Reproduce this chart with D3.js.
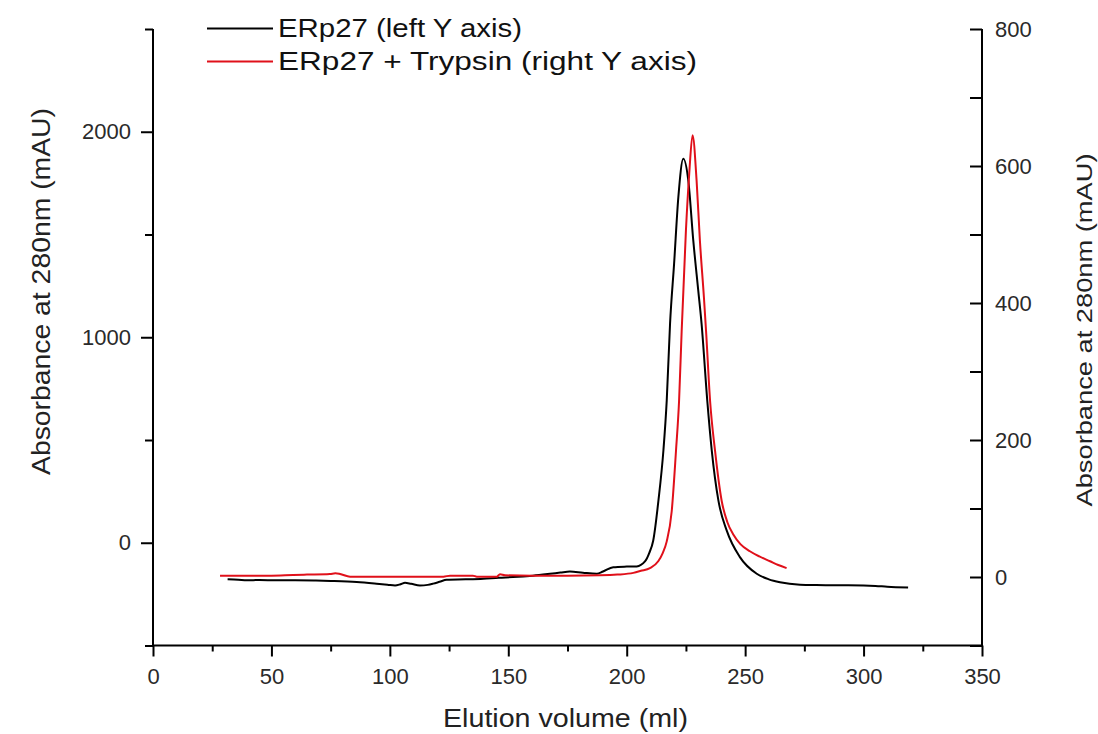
<!DOCTYPE html>
<html>
<head>
<meta charset="utf-8">
<script src="https://cdn.jsdelivr.net/npm/d3@7"></script>
<style>
  html, body { margin: 0; padding: 0; background: #fff; }
  svg { display: block; font-family: "Liberation Sans", Arial, sans-serif; }
</style>
</head>
<body>
<svg id="chart" width="1098" height="734"></svg>
<script>
// ERp27 (left Y axis): elution volume (ml), absorbance (mAU)
const erp27Volume = [31.5,36,39.6,45,52,60,68,75,86,94.4,99,102.2,104.5,106.4,109,112.7,116,118.3,121,124,132,139.5,146,152,160.4,167.6,172,176,181.5,187.4,190,194.3,200,204.2,207.7,209.5,211.2,213.4,215.5,216.9,218.3,220,221.8,223.9,226,228.1,230.2,231.6,234,235.9,238.7,242.2,247.8,254.9,260,264.7,273.2,280,290,300,305,310,318.8];
const erp27Abs = [-178,-180,-183,-181,-183,-183,-184,-186,-191,-199,-204,-208,-202,-195,-200,-208,-205,-199,-190,-180,-178,-175,-170,-167,-160,-151,-145,-140,-146,-151,-140,-119,-116,-115,-91,-50,11,206,450,693,1067,1357,1682,1869,1763,1471,1228,1066,693,450,206,60,-70,-151,-178,-192,-204,-206,-207,-208,-210,-214,-218];

// ERp27 + Trypsin (right Y axis)
const trypVolume = [28.3,40,50,59.2,65,74.7,77,79,83.2,100,122.6,125.4,135.1,136.7,145.1,146.5,148.6,160,175,188.7,196,202.8,206,209.8,213.3,215.2,216.9,219.0,220.8,222.1,223.2,225.0,226.4,227.8,229.5,230.9,232.6,233.5,235.2,237.3,240.1,242.5,245.0,248,252.0,256,260.5,264,267.5];
const trypAbs = [2,2,2,3,3.5,4.4,5.4,4.4,0.5,0.5,0.5,2,2,0.5,0.5,4,2.5,2,2,2.5,3.5,6,9,13,23,35,52,96,184,257,359,506,589,645,579,491,408,359,257,184,111,80,62,48,37.6,30,23,17.5,13];

const xTicks = [0,50,100,150,200,250,300,350];
const xMinorTicks = [25,75,125,175,225,275,325];
const leftTicks = [0,1000,2000];
const leftMinorTicks = [-500,500,1500,2500];
const rightTicks = [0,200,400,600,800];
const rightAllTicks = [-100,0,100,200,300,400,500,600,700,800];

const seriesNames = ["ERp27 (left Y axis)", "ERp27 + Trypsin (right Y axis)"];
const seriesColors = ["#000000", "#e0101a"];
const xTitle = "Elution volume (ml)";
const yTitle = "Absorbance at 280nm (mAU)";

const svg = d3.select("#chart");
const L = 153, R = 982, T = 29, B = 645.5;

const x = d3.scaleLinear().domain([0, 350]).range([L, R]);
const yL = d3.scaleLinear().domain([-500, 2500]).range([B, T]);
const yR = d3.scaleLinear().domain([-100, 800]).range([B, T]);

function styleAxis(g, fs) {
  g.select(".domain").remove();
  g.selectAll(".tick line").attr("stroke", "#000").attr("stroke-width", 2);
  g.selectAll(".tick text").attr("font-size", fs).attr("fill", "#2a2a2a")
    .attr("font-family", "'Liberation Sans', Arial, sans-serif");
}

// X axis
svg.append("g").attr("transform", `translate(0,${B})`)
  .call(d3.axisBottom(x).tickValues(xMinorTicks).tickSize(6).tickFormat(""))
  .call(g => styleAxis(g, 22));
svg.append("g").attr("transform", `translate(0,${B})`)
  .call(d3.axisBottom(x).tickValues(xTicks).tickSize(11).tickPadding(12).tickFormat(d3.format("d")))
  .call(g => styleAxis(g, 22));

// Left axis
svg.append("g").attr("transform", `translate(${L},0)`)
  .call(d3.axisLeft(yL).tickValues(leftMinorTicks).tickSize(8).tickFormat(""))
  .call(g => styleAxis(g, 22));
svg.append("g").attr("transform", `translate(${L},0)`)
  .call(d3.axisLeft(yL).tickValues(leftTicks).tickSize(12).tickPadding(10).tickFormat(d3.format("d")))
  .call(g => styleAxis(g, 22));

// Right axis (ticks pointing inward)
svg.append("g").attr("transform", `translate(${R},0)`)
  .call(d3.axisRight(yR).tickValues(rightAllTicks).tickSizeInner(-12).tickSizeOuter(0).tickPadding(13)
    .tickFormat(d => rightTicks.includes(d) ? d3.format("d")(d) : ""))
  .call(g => styleAxis(g, 22));

// Axis lines
svg.append("line").attr("x1", L).attr("x2", L).attr("y1", T).attr("y2", B + 1).attr("stroke", "#000").attr("stroke-width", 2);
svg.append("line").attr("x1", R).attr("x2", R).attr("y1", T).attr("y2", B + 1).attr("stroke", "#000").attr("stroke-width", 2);
svg.append("line").attr("x1", L - 1).attr("x2", R + 1).attr("y1", B).attr("y2", B).attr("stroke", "#000").attr("stroke-width", 2);

// Lines
const erp27 = erp27Volume.map((v, i) => [v, erp27Abs[i]]);
const tryp = trypVolume.map((v, i) => [v, trypAbs[i]]);

svg.append("path").datum(erp27)
  .attr("fill", "none").attr("stroke", seriesColors[0]).attr("stroke-width", 2)
  .attr("d", d3.line().x(d => x(d[0])).y(d => yL(d[1])).curve(d3.curveMonotoneX));
svg.append("path").datum(tryp)
  .attr("fill", "none").attr("stroke", seriesColors[1]).attr("stroke-width", 2)
  .attr("d", d3.line().x(d => x(d[0])).y(d => yR(d[1])).curve(d3.curveMonotoneX));

// Legend
const legendY = [28.5, 61.5];
const legendLen = [244, 419];
seriesNames.forEach((name, i) => {
  svg.append("line").attr("x1", 207).attr("x2", 273).attr("y1", legendY[i]).attr("y2", legendY[i])
    .attr("stroke", seriesColors[i]).attr("stroke-width", 2);
  svg.append("text").attr("x", 278).attr("y", legendY[i] + 8.5)
    .attr("font-size", 26).attr("fill", "#111")
    .attr("textLength", legendLen[i]).attr("lengthAdjust", "spacingAndGlyphs")
    .text(name);
});

// Titles
svg.append("text").attr("x", 565.5).attr("y", 727).attr("text-anchor", "middle")
  .attr("font-size", 25).attr("fill", "#222")
  .attr("textLength", 245).attr("lengthAdjust", "spacingAndGlyphs").text(xTitle);
svg.append("text").attr("transform", "translate(50,291.5) rotate(-90)").attr("text-anchor", "middle")
  .attr("font-size", 25).attr("fill", "#222")
  .attr("textLength", 367).attr("lengthAdjust", "spacingAndGlyphs").text(yTitle);
svg.append("text").attr("transform", "translate(1092,330) rotate(-90)").attr("text-anchor", "middle")
  .attr("font-size", 22).attr("fill", "#222")
  .attr("textLength", 353).attr("lengthAdjust", "spacingAndGlyphs").text(yTitle);
</script>
</body>
</html>
